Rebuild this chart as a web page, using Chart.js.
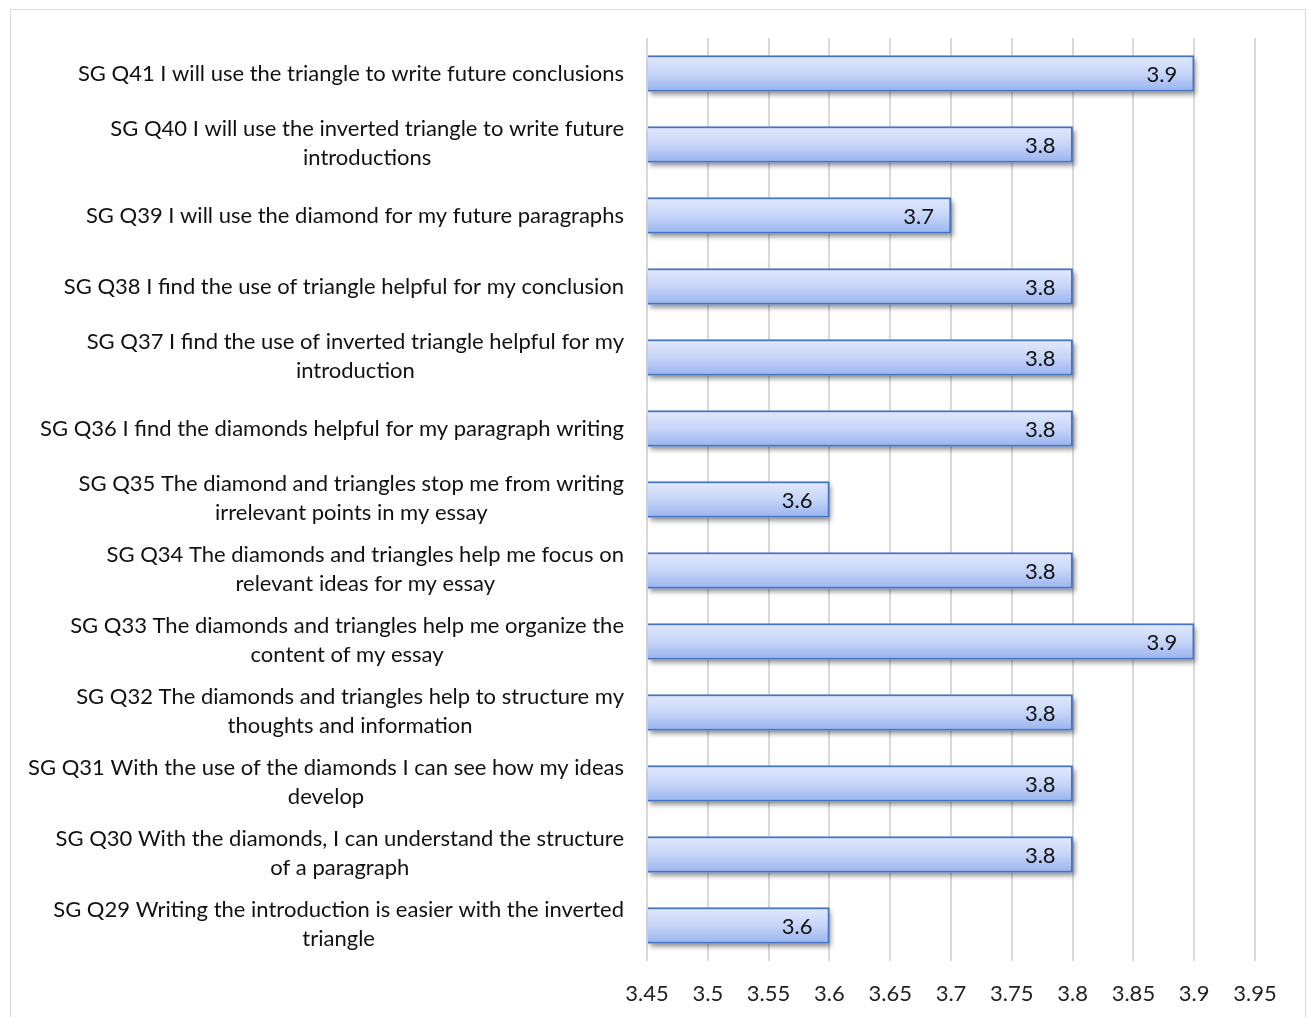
<!DOCTYPE html>
<html>
<head>
<meta charset="utf-8">
<title>Survey means</title>
<script src="https://cdn.jsdelivr.net/npm/chart.js@4.4.1/dist/chart.umd.min.js"></script>
<style>
  html, body { margin: 0; padding: 0; background: #fff; }
  #frame { position: absolute; left: 10px; top: 9px; width: 1294px; height: 1020px; border: 1px solid #d9d9d9; border-bottom: none; }
  #wrap { position: absolute; left: 0; top: 0; width: 1309px; height: 1017px; }
</style>
</head>
<body>
<div id="frame"></div>
<div id="wrap"><canvas id="survey-chart" width="1309" height="1017"></canvas></div>
<script>
'use strict';

// question labels, top to bottom (each entry is one wrapped label)
var questions = [
    ['SG Q41 I will use the triangle to write future conclusions'],
    ['SG Q40 I will use the inverted triangle to write future', 'introductions'],
    ['SG Q39 I will use the diamond for my future paragraphs'],
    ['SG Q38 I find the use of triangle helpful for my conclusion'],
    ['SG Q37 I find the use of inverted triangle helpful for my', 'introduction'],
    ['SG Q36 I find the diamonds helpful for my paragraph writing'],
    ['SG Q35 The diamond and triangles stop me from writing', 'irrelevant points in my essay'],
    ['SG Q34 The diamonds and triangles help me focus on', 'relevant ideas for my essay'],
    ['SG Q33 The diamonds and triangles help me organize the', 'content of my essay'],
    ['SG Q32 The diamonds and triangles help to structure my', 'thoughts and information'],
    ['SG Q31 With the use of the diamonds I can see how my ideas', 'develop'],
    ['SG Q30 With the diamonds, I can understand the structure', 'of a paragraph'],
    ['SG Q29 Writing the introduction is easier with the inverted', 'triangle']
];
var meanScores = [3.9, 3.8, 3.7, 3.8, 3.8, 3.8, 3.6, 3.8, 3.9, 3.8, 3.8, 3.8, 3.6];
var axisMin = 3.45;
var axisMax = 3.95;
var axisStep = 0.05;

var FONT = 'Lato, "Open Sans", sans-serif';
var FONT_SIZE = 22;
var BAR_THICKNESS = 36;

function barGradient(context) {
    var chart = context.chart;
    var yScale = chart.scales && chart.scales.y;
    if (!chart.chartArea || !yScale) return '#b8cbf5';
    var yc = yScale.getPixelForValue(context.dataIndex);
    if (!isFinite(yc)) return '#b8cbf5';
    var g = chart.ctx.createLinearGradient(0, yc - BAR_THICKNESS / 2, 0, yc + BAR_THICKNESS / 2);
    g.addColorStop(0, '#e2e9fc');
    g.addColorStop(0.5, '#c6d5f8');
    g.addColorStop(1, '#99b3ef');
    return g;
}

// soft drop shadow under each bar
var barShadow = {
    id: 'barShadow',
    beforeDatasetsDraw(chart) {
        var ctx = chart.ctx;
        ctx.save();
        ctx.shadowColor = 'rgba(0,0,0,0.45)';
        ctx.shadowBlur = 5;
        ctx.shadowOffsetX = 2;
        ctx.shadowOffsetY = 3;
        ctx.fillStyle = '#ffffff';
        chart.getDatasetMeta(0).data.forEach(bar => {
            var left = Math.min(bar.x, bar.base);
            ctx.fillRect(left, bar.y - bar.height / 2, Math.abs(bar.x - bar.base), bar.height);
        });
        ctx.restore();
    }
};

// value printed inside the end of each bar
var valueLabels = {
    id: 'valueLabels',
    afterDatasetsDraw(chart) {
        var ctx = chart.ctx;
        ctx.save();
        ctx.font = FONT_SIZE + 'px ' + FONT;
        ctx.fillStyle = '#111';
        ctx.textAlign = 'right';
        ctx.textBaseline = 'middle';
        chart.getDatasetMeta(0).data.forEach((bar, i) => {
            ctx.fillText(String(meanScores[i]), bar.x - 17, bar.y + 1);
        });
        ctx.restore();
    }
};

// wrapped category labels, each block centred on its own widest line
var questionLabels = {
    id: 'questionLabels',
    afterDraw(chart) {
        var ctx = chart.ctx;
        var yScale = chart.scales.y;
        var right = chart.chartArea.left - 23;
        var lineHeight = 29;
        ctx.save();
        ctx.font = FONT_SIZE + 'px ' + FONT;
        ctx.fillStyle = '#111';
        ctx.textAlign = 'center';
        ctx.textBaseline = 'middle';
        questions.forEach((lines, i) => {
            var w = Math.max.apply(null, lines.map(l => ctx.measureText(l).width));
            var cx = right - w / 2;
            var yc = yScale.getPixelForValue(i);
            var y0 = yc - (lines.length - 1) * lineHeight / 2 - (lines.length > 1 ? 1 : 0);
            lines.forEach((l, k) => ctx.fillText(l, cx, y0 + k * lineHeight));
        });
        ctx.restore();
    }
};

var canvas = document.getElementById('survey-chart');

new Chart(canvas, {
    type: 'bar',
    data: {
        labels: questions.map(q => q.join(' ')),
        datasets: [{
            label: 'Mean',
            data: meanScores,
            base: axisMin,
            backgroundColor: barGradient,
            borderColor: '#4472c4',
            borderWidth: 2,
            barThickness: BAR_THICKNESS
        }]
    },
    options: {
        indexAxis: 'y',
        responsive: false,
        animation: false,
        layout: {
            padding: { top: 38, right: 54, bottom: 12, left: 0 }
        },
        plugins: {
            legend: { display: false },
            tooltip: { enabled: false },
            title: { display: false }
        },
        scales: {
            x: {
                min: axisMin,
                max: axisMax,
                border: { display: false },
                grid: { color: '#d9d9d9', lineWidth: 2, drawTicks: false },
                ticks: {
                    stepSize: axisStep,
                    padding: 20,
                    color: '#222',
                    font: { family: FONT, size: FONT_SIZE },
                    callback: v => String(Number(v.toFixed(2)))
                },
                afterFit: scale => { scale.height = 44; }
            },
            y: {
                border: { display: false },
                grid: { display: false },
                ticks: { display: false },
                afterFit: scale => { scale.width = 647; }
            }
        }
    },
    plugins: [barShadow, valueLabels, questionLabels]
});
</script>
</body>
</html>
